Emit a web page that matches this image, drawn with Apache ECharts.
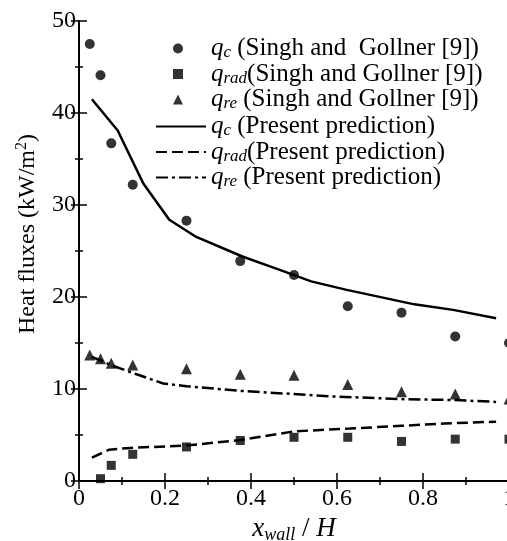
<!DOCTYPE html>
<html>
<head>
<meta charset="utf-8">
<script src="https://cdn.jsdelivr.net/npm/echarts@6/dist/echarts.min.js"></script>
<style>
  html, body { margin: 0; padding: 0; background: #fff; }
  #chart { width: 507px; height: 541px; }
</style>
</head>
<body>
<div id="chart"></div>
<script>
// Measured heat fluxes along the wall (Singh and Gollner [9])
const xExp = [0.025, 0.05, 0.075, 0.125, 0.25, 0.375, 0.5, 0.625, 0.75, 0.875, 1.0];
const qcExp = [47.5, 44.1, 36.7, 32.2, 28.3, 23.9, 22.4, 19.0, 18.3, 15.7, 15.0];
const qreExp = [13.7, 13.3, 12.8, 12.6, 12.2, 11.6, 11.5, 10.5, 9.7, 9.45, 8.9];
const xRadExp = [0.05, 0.075, 0.125, 0.25, 0.375, 0.5, 0.625, 0.75, 0.875, 1.0];
const qradExp = [0.25, 1.7, 2.9, 3.7, 4.4, 4.75, 4.75, 4.3, 4.55, 4.55];

// Predicted heat fluxes (present model)
const xQcPred = [0.03, 0.09, 0.122, 0.15, 0.21, 0.27, 0.38, 0.47, 0.54, 0.62, 0.78, 0.87, 0.97];
const qcPred = [41.5, 38.1, 35.0, 32.3, 28.4, 26.6, 24.4, 22.9, 21.7, 20.8, 19.2, 18.6, 17.7];
const xQradPred = [0.03, 0.07, 0.12, 0.25, 0.375, 0.5, 0.63, 0.75, 0.85, 0.97];
const qradPred = [2.55, 3.4, 3.6, 3.85, 4.45, 5.4, 5.7, 6.0, 6.25, 6.45];
const xQrePred = [0.03, 0.08, 0.134, 0.196, 0.25, 0.374, 0.5, 0.584, 0.75, 0.87, 0.97];
const qrePred = [13.5, 12.5, 11.6, 10.6, 10.3, 9.8, 9.45, 9.2, 8.9, 8.8, 8.6];

// Legend entries: subscript of q and the trailing note
const legendSubs = ['c', 'rad', 're', 'c', 'rad', 're'];
const legendNotes = [
  ' (Singh and  Gollner [9])',
  '(Singh and Gollner [9])',
  ' (Singh and Gollner [9])',
  ' (Present prediction)',
  '(Present prediction)',
  ' (Present prediction)'
];
const seriesNames = legendSubs.map((s, i) => 'q' + s + legendNotes[i]);
const legendRich = {};
seriesNames.forEach((n, i) => {
  legendRich[n] = '{q|q}{s|' + legendSubs[i] + '}{t|' + legendNotes[i] + '}';
});

const FONT = '"Liberation Serif", "DejaVu Serif", serif';
const pairs = (xs, ys) => xs.map((x, i) => [x, ys[i]]);

// rich styles for the legend labels; qPad pushes the text past the marker column
function legendText(qPad) {
  return {
    rich: {
      q: { fontFamily: FONT, fontStyle: 'italic', fontSize: 25, lineHeight: 26, color: '#000', padding: [0, 0, 0, qPad] },
      s: { fontFamily: FONT, fontStyle: 'italic', fontSize: 17, lineHeight: 10, verticalAlign: 'bottom', color: '#000' },
      t: { fontFamily: FONT, fontSize: 25, lineHeight: 26, color: '#000' }
    }
  };
}

const chart = echarts.init(document.getElementById('chart'), null, { renderer: 'canvas' });

const axisLine = { show: true, lineStyle: { color: '#000', width: 2 } };
const tick = { show: true, inside: true, length: 8, lineStyle: { color: '#000', width: 1.5 } };
const minor = { show: true, splitNumber: 2, length: 4, lineStyle: { color: '#000', width: 1.5 } };

chart.setOption({
  animation: false,
  backgroundColor: '#fff',
  grid: { left: 79, top: 21, width: 430, height: 460, containLabel: false, outerBoundsMode: 'none' },
  xAxis: [{
    type: 'value', min: 0, max: 1, interval: 0.2, position: 'bottom',
    axisLine: axisLine, axisTick: tick, minorTick: minor,
    splitLine: { show: false },
    axisLabel: { color: '#000', fontFamily: FONT, fontSize: 24, margin: 6 },
    name: '{i|x}{s|wall}{n| / }{i|H}',
    nameLocation: 'middle', nameGap: 28,
    nameTextStyle: {
      rich: {
        i: { fontFamily: FONT, fontStyle: 'italic', fontSize: 27, lineHeight: 30, color: '#000' },
        s: { fontFamily: FONT, fontStyle: 'italic', fontSize: 18, lineHeight: 12, verticalAlign: 'bottom', color: '#000' },
        n: { fontFamily: FONT, fontSize: 27, lineHeight: 30, color: '#000' }
      }
    }
  }, {
    type: 'value', min: 0, max: 1, interval: 0.2, position: 'top',
    axisLine: axisLine, axisTick: tick, minorTick: minor,
    splitLine: { show: false },
    axisLabel: { show: false }
  }],
  yAxis: [{
    type: 'value', min: 0, max: 50, interval: 10, position: 'left',
    axisLine: axisLine, axisTick: tick, minorTick: minor,
    splitLine: { show: false },
    axisLabel: { color: '#000', fontFamily: FONT, fontSize: 24, margin: 3 }
  }, {
    type: 'value', min: 0, max: 50, interval: 10, position: 'right',
    axisLine: axisLine, axisTick: tick, minorTick: minor,
    splitLine: { show: false },
    axisLabel: { show: false }
  }],
  legend: [{
    // measured data: marker column
    orient: 'vertical', left: 173, top: 36, padding: 0, itemGap: 0,
    itemWidth: 10, itemHeight: 10,
    data: seriesNames.slice(0, 3),
    formatter: name => legendRich[name],
    textStyle: legendText(23)
  }, {
    // predictions: line samples without centre marker
    orient: 'vertical', left: 155, top: 114, padding: 0, itemGap: 0,
    itemWidth: 50, itemHeight: 10,
    data: seriesNames.slice(3).map(n => ({ name: n, itemStyle: { opacity: 0 } })),
    formatter: name => legendRich[name],
    textStyle: legendText(0)
  }],
  graphic: [{
    type: 'text', x: 28, y: 234, rotation: Math.PI / 2,
    style: {
      text: '{a|Heat fluxes (kW/m}{b|2}{a|)}',
      align: 'center', verticalAlign: 'middle',
      rich: {
        a: { fontFamily: FONT, fontSize: 24, lineHeight: 28, fill: '#000', color: '#000' },
        b: { fontFamily: FONT, fontSize: 16, lineHeight: 12, verticalAlign: 'top', fill: '#000', color: '#000' }
      }
    }
  }],
  series: [
    { name: seriesNames[0], type: 'scatter', symbol: 'circle', symbolSize: 10,
      itemStyle: { color: '#000' }, data: pairs(xExp, qcExp) },
    { name: seriesNames[1], type: 'scatter', symbol: 'rect', symbolSize: 9,
      itemStyle: { color: '#000' }, data: pairs(xRadExp, qradExp) },
    { name: seriesNames[2], type: 'scatter', symbol: 'triangle', symbolSize: 11,
      itemStyle: { color: '#000' }, data: pairs(xExp, qreExp) },
    { name: seriesNames[3], type: 'line', symbol: 'none', smooth: false,
      lineStyle: { color: '#000', width: 2.5, type: 'solid' }, itemStyle: { color: '#000' },
      data: pairs(xQcPred, qcPred) },
    { name: seriesNames[4], type: 'line', symbol: 'none',
      lineStyle: { color: '#000', width: 2.5, type: [11, 5] }, itemStyle: { color: '#000' },
      data: pairs(xQradPred, qradPred) },
    { name: seriesNames[5], type: 'line', symbol: 'none',
      lineStyle: { color: '#000', width: 2.5, type: [12, 4, 3, 4] }, itemStyle: { color: '#000' },
      data: pairs(xQrePred, qrePred) }
  ]
});
</script>
</body>
</html>
